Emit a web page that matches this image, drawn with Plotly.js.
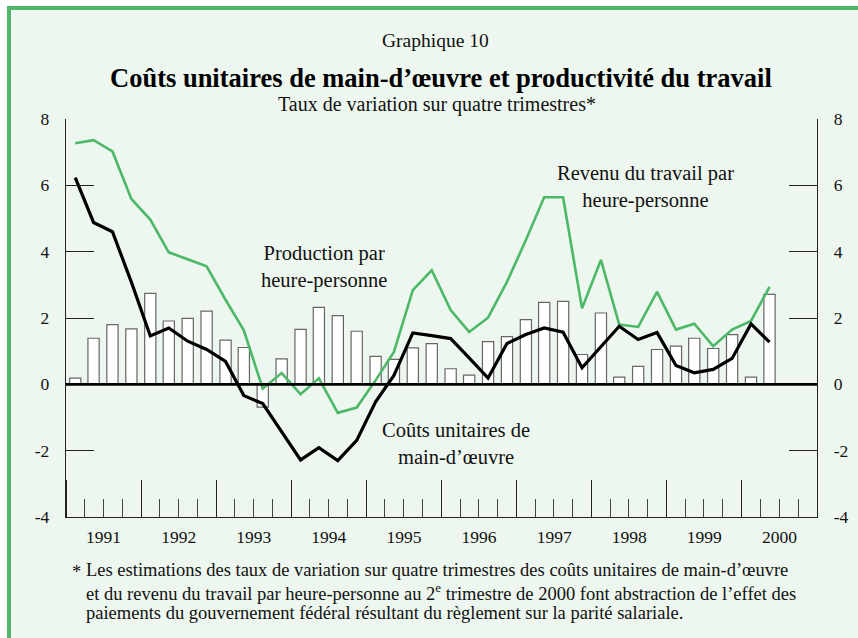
<!DOCTYPE html>
<html>
<head>
<meta charset="utf-8">
<script src="https://cdn.plot.ly/plotly-3.0.1.min.js"></script>
<style>
  html, body { margin:0; padding:0; background:#ffffff; }
  #wrap { position:relative; width:858px; height:638px; overflow:hidden; background:#ffffff; }
  #frame { position:absolute; left:7px; top:6px; width:900px; height:700px; background:#EDF7EF;
           border-top:4px solid #4CB868; border-left:4px solid #4CB868; }
  #chart { position:absolute; left:0; top:0; width:858px; height:638px; }
</style>
</head>
<body>
<div id="wrap"><div id="frame"></div><div id="chart"></div></div>
<script>
// Quarters 1991 T1 – 2000 T2 (mid-quarter dates)
const quarters = [
  '1991-02-15','1991-05-15','1991-08-15','1991-11-15',
  '1992-02-15','1992-05-15','1992-08-15','1992-11-15',
  '1993-02-15','1993-05-15','1993-08-15','1993-11-15',
  '1994-02-15','1994-05-15','1994-08-15','1994-11-15',
  '1995-02-15','1995-05-15','1995-08-15','1995-11-15',
  '1996-02-15','1996-05-15','1996-08-15','1996-11-15',
  '1997-02-15','1997-05-15','1997-08-15','1997-11-15',
  '1998-02-15','1998-05-15','1998-08-15','1998-11-15',
  '1999-02-15','1999-05-15','1999-08-15','1999-11-15',
  '2000-02-15','2000-05-15'
];
// Production par heure-personne (bars)
const productivite = [
  0.19, 1.39, 1.80, 1.67, 2.74, 1.91, 1.99, 2.21, 1.33, 1.11,
  -0.69, 0.77, 1.66, 2.32, 2.07, 1.60, 0.84, 0.75, 1.10, 1.23,
  0.47, 0.28, 1.29, 1.44, 1.95, 2.47, 2.50, 0.90, 2.15, 0.22,
  0.54, 1.05, 1.15, 1.39, 1.08, 1.50, 0.22, 2.71
];
// Coûts unitaires de main-d'œuvre (black line)
const coutsUnitaires = [
  6.23, 4.88, 4.60, 3.08, 1.46, 1.70, 1.30, 1.05, 0.69, -0.34,
  -0.58, -1.45, -2.28, -1.91, -2.30, -1.69, -0.53, 0.27, 1.55, 1.47,
  1.38, 0.80, 0.19, 1.23, 1.50, 1.70, 1.57, 0.50, 1.13, 1.75,
  1.35, 1.56, 0.57, 0.35, 0.45, 0.78, 1.82, 1.27
];
// Revenu du travail par heure-personne (green line)
const revenuTravail = [
  7.27, 7.36, 7.02, 5.59, 4.97, 3.98, 3.77, 3.56, 2.55, 1.63,
  -0.13, 0.34, -0.30, 0.18, -0.86, -0.70, 0.12, 0.98, 2.84, 3.44,
  2.24, 1.58, 2.01, 3.09, 4.35, 5.64, 5.64, 2.29, 3.75, 1.80,
  1.73, 2.79, 1.65, 1.83, 1.15, 1.65, 1.91, 2.94
];
const yTicks = [-4, -2, 0, 2, 4, 6, 8];
const footnoteLines = [
  'Les estimations des taux de variation sur quatre trimestres des coûts unitaires de main-d’œuvre',
  'et du revenu du travail par heure-personne au 2<sup>e</sup> trimestre de 2000 font abstraction de l’effet des',
  'paiements du gouvernement fédéral résultant du règlement sur la parité salariale.'
];

const serif = "'Liberation Serif', 'Times New Roman', Times, serif";
const green = '#4CB868';
const dayMs = 86400000;
const px = v => (517 - v) / 398;     // page y (px) -> paper y
const pxx = v => (v - 66) / 751;     // page x (px) -> paper x

const traces = [
  { type:'bar', x:quarters, y:productivite, width:0.6*91*dayMs,
    marker:{color:'#ffffff', line:{color:'#666666', width:1.2}},
    hoverinfo:'skip', showlegend:false },
  { type:'scatter', mode:'lines', x:quarters, y:revenuTravail,
    line:{color:green, width:2.6}, showlegend:false },
  { type:'scatter', mode:'lines', x:quarters, y:coutsUnitaires,
    line:{color:'#000000', width:3.2}, showlegend:false },
  { type:'scatter', mode:'lines', x:quarters, y:coutsUnitaires, yaxis:'y2',
    line:{color:'rgba(0,0,0,0)', width:0}, showlegend:false, hoverinfo:'skip' }
];

const tickFont = {family:serif, size:17.5, color:'#111'};
const annotFont = {family:serif, size:20.5, color:'#111'};

const annotations = [
  {text:'Graphique 10', xref:'paper', yref:'paper', x:pxx(435), y:px(41),
   showarrow:false, xanchor:'center', yanchor:'middle', font:{family:serif, size:19.5, color:'#111'}},
  {text:'<b>Coûts unitaires de main-d’œuvre et productivité du travail</b>', xref:'paper', yref:'paper',
   x:pxx(441), y:px(78), showarrow:false, xanchor:'center', yanchor:'middle',
   font:{family:serif, size:26.5, color:'#000'}},
  {text:'Taux de variation sur quatre trimestres*', xref:'paper', yref:'paper',
   x:pxx(437), y:px(104), showarrow:false, xanchor:'center', yanchor:'middle',
   font:{family:serif, size:20, color:'#111'}},
  {text:'Production par<br>heure-personne', xref:'paper', yref:'paper',
   x:pxx(324), y:px(267), showarrow:false, xanchor:'center', yanchor:'middle', align:'center', font:annotFont},
  {text:'Revenu du travail par<br>heure-personne', xref:'paper', yref:'paper',
   x:pxx(645), y:px(187), showarrow:false, xanchor:'center', yanchor:'middle', align:'center', font:annotFont},
  {text:'Coûts unitaires de<br>main-d’œuvre', xref:'paper', yref:'paper',
   x:pxx(456), y:px(443), showarrow:false, xanchor:'center', yanchor:'middle', align:'center', font:annotFont},
  {text:'*', xref:'paper', yref:'paper', x:pxx(70), y:px(572),
   showarrow:false, xanchor:'left', yanchor:'middle', font:{family:serif, size:18.5, color:'#111'}}
];
const footY = [570, 592, 613];
footnoteLines.forEach((t, i) => annotations.push({
  text:t, xref:'paper', yref:'paper', x:pxx(84), y:px(footY[i]),
  showarrow:false, xanchor:'left', yanchor:'middle', align:'left',
  font:{family:serif, size:18.5, color:'#111'}
}));

const layout = {
  width:858, height:638,
  margin:{l:66, r:41, t:119, b:121},
  paper_bgcolor:'rgba(0,0,0,0)', plot_bgcolor:'rgba(0,0,0,0)',
  font:{family:serif, size:16, color:'#111111'},
  showlegend:false,
  bargap:0,
  xaxis:{
    type:'date', range:['1991-01-01','2001-01-01'],
    tick0:'1991-01-01', dtick:'M12', ticklabelmode:'period', tickformat:'%Y',
    ticks:'inside', ticklen:37, tickwidth:1, tickcolor:'#222',
    minor:{ticks:'inside', ticklen:18, tickwidth:1, tickcolor:'#444', dtick:'M3', tick0:'1991-01-01', showgrid:false},
    showline:true, linecolor:'#222', linewidth:1.2,
    showgrid:false, zeroline:false, fixedrange:true,
    tickfont:tickFont, ticklabelstandoff:4
  },
  yaxis:{
    range:[-4, 8], tickvals:yTicks, ticktext:yTicks.map(String),
    ticks:'inside', ticklen:28, tickwidth:1, tickcolor:'#222',
    showline:true, linecolor:'#222', linewidth:1.2,
    showgrid:false, zeroline:false, fixedrange:true,
    tickfont:tickFont, ticklabelstandoff:12
  },
  yaxis2:{
    overlaying:'y', side:'right', range:[-4, 8], tickvals:yTicks, ticktext:yTicks.map(String),
    ticks:'inside', ticklen:28, tickwidth:1, tickcolor:'#222',
    showline:true, linecolor:'#222', linewidth:1.2,
    showgrid:false, zeroline:false, fixedrange:true,
    tickfont:tickFont, ticklabelstandoff:12
  },
  shapes:[
    {type:'line', xref:'paper', x0:0, x1:1, yref:'y', y0:0, y1:0, layer:'above',
     line:{color:'#000', width:2.6}}
  ],
  annotations:annotations
};

Plotly.newPlot('chart', traces, layout, {displayModeBar:false, staticPlot:true});
</script>
</body>
</html>
